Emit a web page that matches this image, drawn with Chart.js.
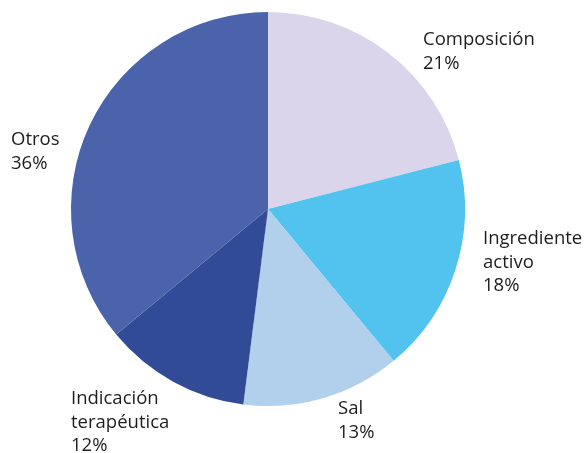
<!DOCTYPE html>
<html>
<head>
<meta charset="utf-8">
<script src="https://cdn.jsdelivr.net/npm/chart.js@4/dist/chart.umd.min.js"></script>
<style>
html,body{margin:0;padding:0;background:#fff}
#wrap{width:584px;height:453px;position:relative}
</style>
</head>
<body>
<div id="wrap"><canvas id="pieChart"></canvas></div>
<script>
const categories = ["Composición","Ingrediente activo","Sal","Indicación terapéutica","Otros"]
const shares = [21,18,13,12,36]
const labelLines = [["Composición","21%"],["Ingrediente","activo","18%"],["Sal","13%"],["Indicación","terapéutica","12%"],["Otros","36%"]]

const colors = ["#DAD5EA","#52C3EE","#B0D0EC","#324B96","#4A63AA"]
// first baseline of each label, offset from pie centre (px)
const labelPos = [[155,-164],[215,35],[70,205],[-197,195],[-257,-64]]

const outsideLabels = {
id:"outsideLabels",
afterDraw(chart){
const ctx = chart.ctx
const arc = chart.getDatasetMeta(0).data[0]
const cx = arc.x, cy = arc.y
ctx.save()
ctx.fillStyle = "#1d1d1b"
ctx.font = "18.5px 'Open Sans'"
ctx.textBaseline = "alphabetic"
ctx.textAlign = "left"
labelLines.forEach((lines,i) => {
lines.forEach((t,j) => {
ctx.fillText(t, cx+labelPos[i][0], cy+labelPos[i][1]+j*23.5)
})
})
ctx.restore()
}
}

new Chart(
document.getElementById("pieChart"),
{
type:"pie",
data:{
labels:categories,
datasets:[{
data:shares,
backgroundColor:colors,
borderWidth:0
}]
},
options:{
responsive:true,
maintainAspectRatio:false,
animation:false,
layout:{padding:{left:71,right:119,top:12,bottom:47}},
plugins:{legend:{display:false},tooltip:{enabled:false}}
},
plugins:[outsideLabels]
}
)
</script>
</body>
</html>
